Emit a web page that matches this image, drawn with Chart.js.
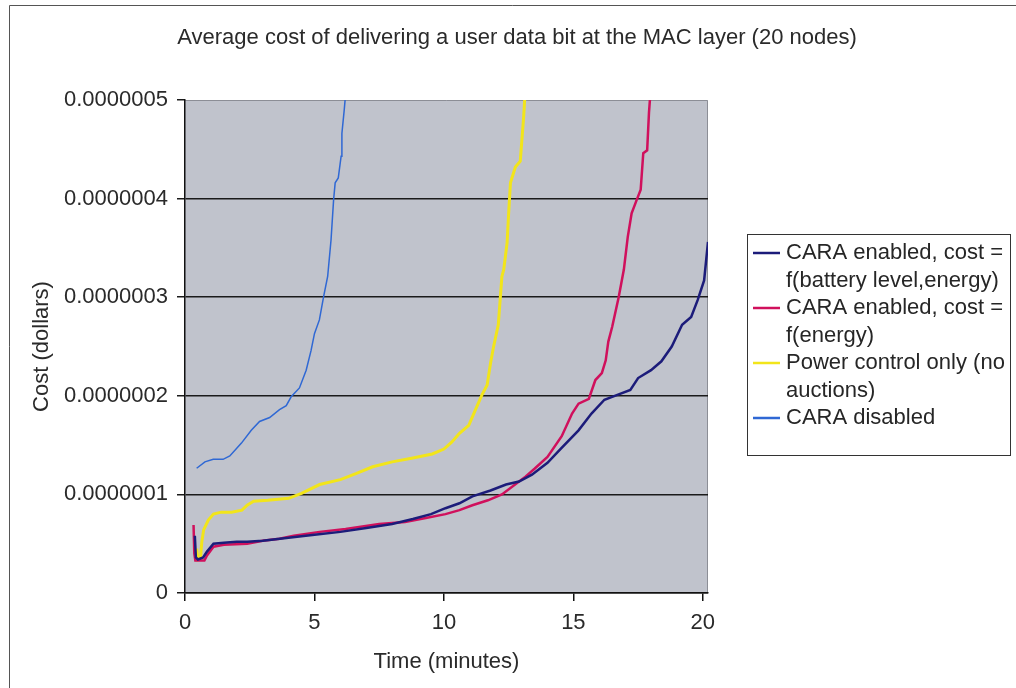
<!DOCTYPE html>
<html>
<head>
<meta charset="utf-8">
<script src="https://cdn.jsdelivr.net/npm/chart.js@4"></script>
<style>
  html, body { margin: 0; padding: 0; background: #fff; }
  #wrap { position: relative; width: 1016px; height: 688px; }
</style>
</head>
<body>
<div id="wrap"><canvas id="chart" width="1016" height="688"></canvas></div>
<script>
const FONT = '"Liberation Sans", Arial, sans-serif';

const chartTitle = 'Average cost of delivering a user data bit at the MAC layer (20 nodes)';

const xTicks = [0, 5, 10, 15, 20];
const yTicks = [0, 1e-7, 2e-7, 3e-7, 4e-7, 5e-7];

const seriesLabels = [
  ['CARA enabled, cost =', 'f(battery level,energy)'],
  ['CARA enabled, cost =', 'f(energy)'],
  ['Power control only (no', 'auctions)'],
  ['CARA disabled']
];
const seriesColors = ['#1c1c7a', '#d0105c', '#f2e51a', '#2f68d4'];
const seriesWidths = [2.5, 2.5, 3, 1.5];

// CARA enabled, cost = f(battery level, energy)
const batteryTime = [0.38, 0.42, 0.5, 0.7, 0.85, 1.1, 1.5, 2.0, 2.4, 3.0, 4.0, 5.0, 6.0, 7.0, 8.0, 8.8, 9.5, 10.06, 10.6, 11.1, 11.8, 12.4, 12.9, 13.4, 14.0, 14.5, 15.2, 15.7, 16.2, 16.7, 17.2, 17.5, 18.0, 18.4, 18.8, 19.2, 19.55, 19.8, 20.05, 20.2];
const batteryCost = [0.58e-7, 0.36e-7, 0.34e-7, 0.36e-7, 0.42e-7, 0.50e-7, 0.51e-7, 0.52e-7, 0.52e-7, 0.53e-7, 0.56e-7, 0.59e-7, 0.62e-7, 0.66e-7, 0.70e-7, 0.75e-7, 0.80e-7, 0.86e-7, 0.91e-7, 0.98e-7, 1.04e-7, 1.10e-7, 1.13e-7, 1.20e-7, 1.32e-7, 1.46e-7, 1.65e-7, 1.82e-7, 1.96e-7, 2.01e-7, 2.06e-7, 2.18e-7, 2.26e-7, 2.35e-7, 2.50e-7, 2.72e-7, 2.80e-7, 2.97e-7, 3.17e-7, 3.56e-7];

// CARA enabled, cost = f(energy)
const energyTime = [0.33, 0.36, 0.40, 0.55, 0.75, 0.85, 1.1, 1.5, 2.4, 3.0, 3.65, 4.2, 5.2, 6.2, 7.5, 8.5, 9.3, 10.06, 10.6, 11.1, 11.7, 12.24, 12.8, 13.15, 13.5, 14.0, 14.55, 14.95, 15.2, 15.6, 15.85, 16.1, 16.25, 16.35, 16.5, 16.75, 16.95, 17.1, 17.25, 17.45, 17.6, 17.7, 17.85, 17.92, 17.97];
const energyCost = [0.69e-7, 0.40e-7, 0.33e-7, 0.33e-7, 0.33e-7, 0.38e-7, 0.47e-7, 0.49e-7, 0.50e-7, 0.53e-7, 0.55e-7, 0.58e-7, 0.62e-7, 0.65e-7, 0.70e-7, 0.72e-7, 0.76e-7, 0.80e-7, 0.84e-7, 0.89e-7, 0.94e-7, 1.00e-7, 1.11e-7, 1.18e-7, 1.26e-7, 1.38e-7, 1.59e-7, 1.82e-7, 1.92e-7, 1.97e-7, 2.16e-7, 2.23e-7, 2.36e-7, 2.55e-7, 2.70e-7, 3.00e-7, 3.28e-7, 3.61e-7, 3.85e-7, 3.99e-7, 4.09e-7, 4.46e-7, 4.49e-7, 4.87e-7, 5.05e-7];

// Power control only (no auctions)
const powerTime = [0.45, 0.5, 0.6, 0.65, 0.72, 0.9, 1.1, 1.4, 1.8, 2.2, 2.4, 2.65, 3.2, 4.0, 4.5, 5.2, 6.0, 6.6, 7.25, 8.0, 8.8, 9.55, 10.0, 10.3, 10.6, 10.96, 11.22, 11.47, 11.67, 11.8, 11.92, 12.1, 12.24, 12.31, 12.44, 12.5, 12.57, 12.76, 12.95, 13.01, 13.08, 13.13];
const powerCost = [0.45e-7, 0.34e-7, 0.36e-7, 0.52e-7, 0.64e-7, 0.74e-7, 0.80e-7, 0.82e-7, 0.82e-7, 0.84e-7, 0.89e-7, 0.93e-7, 0.94e-7, 0.96e-7, 1.01e-7, 1.10e-7, 1.15e-7, 1.21e-7, 1.28e-7, 1.33e-7, 1.37e-7, 1.41e-7, 1.46e-7, 1.53e-7, 1.62e-7, 1.70e-7, 1.86e-7, 2.01e-7, 2.11e-7, 2.33e-7, 2.50e-7, 2.72e-7, 3.21e-7, 3.28e-7, 3.55e-7, 3.85e-7, 4.16e-7, 4.32e-7, 4.38e-7, 4.59e-7, 4.83e-7, 5.05e-7];

// CARA disabled
const disabledTime = [0.45, 0.77, 1.09, 1.47, 1.73, 2.18, 2.56, 2.88, 3.27, 3.65, 3.91, 4.1, 4.42, 4.68, 4.87, 5.0, 5.19, 5.35, 5.51, 5.64, 5.74, 5.8, 5.92, 6.03, 6.06, 6.15, 6.2];
const disabledCost = [1.265e-7, 1.33e-7, 1.356e-7, 1.356e-7, 1.39e-7, 1.52e-7, 1.65e-7, 1.74e-7, 1.78e-7, 1.86e-7, 1.90e-7, 1.99e-7, 2.08e-7, 2.26e-7, 2.46e-7, 2.63e-7, 2.77e-7, 3.0e-7, 3.21e-7, 3.58e-7, 3.99e-7, 4.16e-7, 4.21e-7, 4.43e-7, 4.66e-7, 4.90e-7, 5.05e-7];

const times = [batteryTime, energyTime, powerTime, disabledTime];
const costs = [batteryCost, energyCost, powerCost, disabledCost];

const plotBg = {
  id: 'plotBg',
  beforeDraw(chart) {
    const { ctx, chartArea: a } = chart;
    ctx.save();
    ctx.fillStyle = '#fff';
    ctx.fillRect(0, 0, chart.width, chart.height);
    ctx.fillStyle = '#c0c3cc';
    ctx.fillRect(a.left, a.top, a.right - a.left, a.bottom - a.top);
    ctx.strokeStyle = '#8c8e96';
    ctx.lineWidth = 1;
    ctx.beginPath();
    ctx.moveTo(a.left, a.top + 0.5); ctx.lineTo(a.right - 0.5, a.top + 0.5); ctx.lineTo(a.right - 0.5, a.bottom);
    ctx.stroke();
    // page frame
    ctx.strokeStyle = '#555';
    ctx.beginPath();
    ctx.moveTo(9.5, chart.height); ctx.lineTo(9.5, 5.5); ctx.lineTo(chart.width, 5.5);
    ctx.stroke();
    // title, centred over the whole sheet rather than the plot box
    ctx.fillStyle = '#2a2a2a';
    ctx.font = '22px ' + FONT;
    ctx.textAlign = 'center';
    ctx.textBaseline = 'middle';
    ctx.fillText(chartTitle, 517, 38);
    ctx.restore();
  }
};

const legendBox = {
  id: 'legendBox',
  afterDraw(chart) {
    const ctx = chart.ctx;
    ctx.save();
    ctx.fillStyle = '#fff';
    ctx.fillRect(747, 234, 264, 222);
    ctx.strokeStyle = '#333';
    ctx.lineWidth = 1;
    ctx.strokeRect(747.5, 234.5, 263, 221);
    ctx.font = '22px ' + FONT;
    ctx.textBaseline = 'middle';
    let y = 253;
    chart.data.datasets.forEach((ds, i) => {
      ctx.strokeStyle = ds.borderColor;
      ctx.lineWidth = 2.5;
      ctx.beginPath(); ctx.moveTo(753, y); ctx.lineTo(780, y); ctx.stroke();
      ctx.fillStyle = '#262626';
      seriesLabels[i].forEach(line => { ctx.fillText(line, 786, y); y += 27.5; });
    });
    ctx.restore();
  }
};

new Chart(document.getElementById('chart'), {
  type: 'line',
  data: {
    datasets: seriesLabels.map((lab, i) => ({
      label: lab.join(' '),
      data: times[i].map((t, j) => ({ x: t, y: costs[i][j] })),
      borderColor: seriesColors[i],
      borderWidth: seriesWidths[i],
      pointRadius: 0,
      tension: 0,
      clip: 0
    }))
  },
  options: {
    responsive: false,
    animation: false,
    layout: { padding: { left: 18, right: 308, top: 100, bottom: 0 } },
    plugins: {
      legend: { display: false },
      tooltip: { enabled: false },
      title: { display: false }
    },
    scales: {
      x: {
        type: 'linear',
        min: 0,
        max: 20.2,
        afterBuildTicks: s => { s.ticks = xTicks.map(v => ({ value: v })); },
        afterFit: s => { s.height = 95; },
        ticks: { color: '#2a2a2a', font: { family: FONT, size: 22 }, padding: 9, maxRotation: 0 },
        grid: { drawOnChartArea: false, tickLength: 8, color: '#111', lineWidth: 1.5 },
        border: { display: true, color: '#111', width: 1.5 },
        title: {
          display: true, text: 'Time (minutes)', color: '#2a2a2a',
          font: { family: FONT, size: 22 }, padding: { top: 0, bottom: 13 }
        }
      },
      y: {
        min: 0,
        max: 5e-7,
        afterBuildTicks: s => { s.ticks = yTicks.map(v => ({ value: v })); },
        afterFit: s => { s.width = 167; },
        ticks: {
          color: '#2a2a2a', font: { family: FONT, size: 22 }, padding: 9,
          callback: v => v === 0 ? '0' : v.toFixed(7)
        },
        grid: {
          tickLength: 8,
          lineWidth: 1.5,
          color: c => (c.tick && c.tick.value > 4.5e-7) ? 'rgba(0,0,0,0)' : '#1a1a1a',
          tickColor: '#1a1a1a'
        },
        border: { display: true, color: '#111', width: 1.5 },
        title: {
          display: true, text: 'Cost (dollars)', color: '#2a2a2a',
          font: { family: FONT, size: 22 }, padding: { top: 10.5, bottom: 0 }
        }
      }
    }
  },
  plugins: [plotBg, legendBox]
});
</script>
</body>
</html>
